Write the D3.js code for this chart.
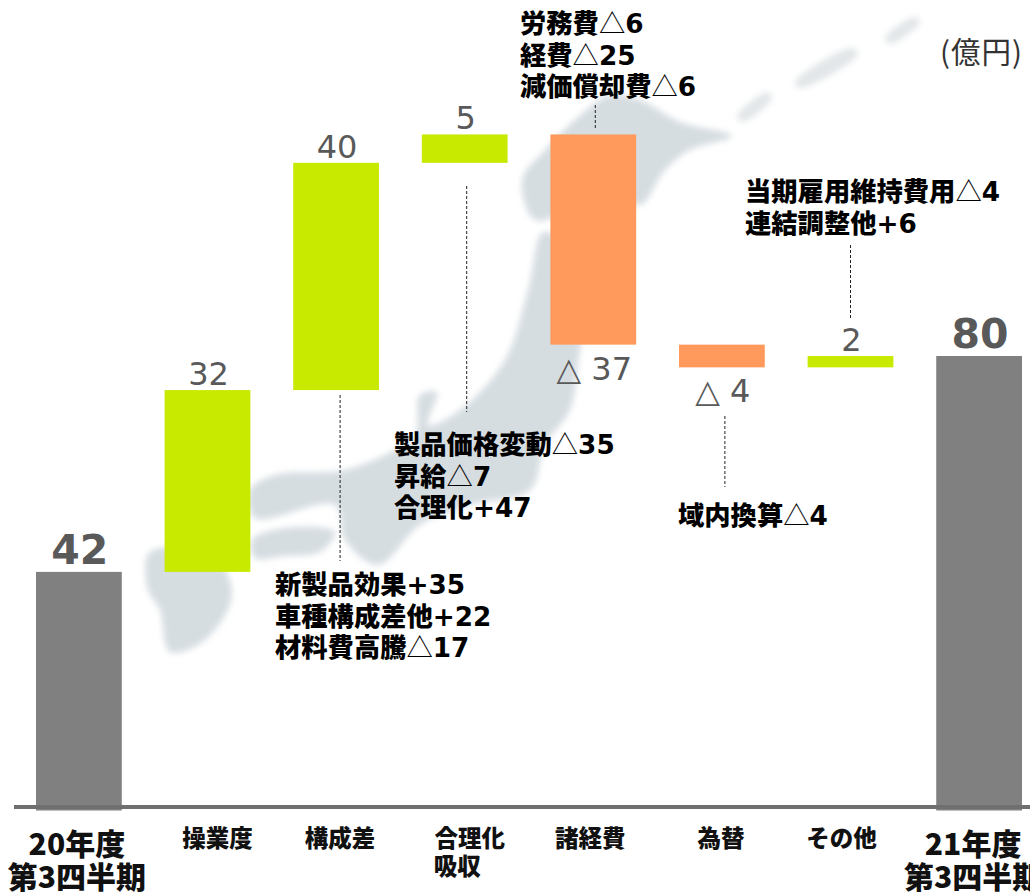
<!DOCTYPE html>
<html>
<head>
<meta charset="utf-8">
<script src="https://cdn.jsdelivr.net/npm/d3@7"></script>
<style>
html, body { margin: 0; padding: 0; background: #fff; }
svg { display: block; }
text { font-family: "DejaVu Sans", "Noto Sans CJK JP", sans-serif; }
.cjk { font-family: "Noto Sans CJK JP", sans-serif; }
</style>
</head>
<body>
<div id="chart"></div>
<script>
// Values
var categories = ['20年度', '操業度', '構成差', '合理化', '諸経費', '為替', 'その他', '21年度'];
var categorySub = ['第3四半期', '', '', '吸収', '', '', '', '第3四半期'];
var deltas = [42, 32, 40, 5, -37, -4, 2, 80];
var totals = [true, false, false, false, false, false, false, true];

// Notes next to the bars
var noteMix = ['新製品効果+35', '車種構成差他+22', '材料費高騰△17'];
var noteRational = ['製品価格変動△35', '昇給△7', '合理化+47'];
var noteExpense = ['労務費△6', '経費△25', '減価償却費△6'];
var noteFx = ['域内換算△4'];
var noteOther = ['当期雇用維持費用△4', '連結調整他+6'];
var unitLabel = '(億円)';

var width = 1030, height = 894;

var svg = d3.select('#chart').append('svg')
    .attr('width', width)
    .attr('height', height);

// faint map of Japan behind the chart
var mapShapes = [
    [[584,112],[610,95],[640,100],[680,122],[732,136],[690,150],[665,170],[640,205],[615,190],[570,210],[535,220],[522,180],[545,150]],
    [[543,232],[560,240],[590,300],[580,350],[570,410],[545,445],[530,490],[470,505],[420,525],[378,565],[345,540],[335,505],[255,518],[250,490],[275,475],[345,470],[395,450],[415,438],[420,395],[437,392],[428,425],[460,410],[505,360],[528,290]],
    [[252,540],[285,528],[335,532],[320,552],[285,556],[255,558]],
    [[150,552],[215,558],[232,595],[205,640],[170,652],[160,610],[148,590]]
];
var mapIslands = [
    [[737,116],[768,92],[772,98],[742,122]],
    [[795,82],[852,48],[858,54],[800,88]],
    [[885,38],[915,17],[920,22],[890,44]]
];

var defs = svg.append('defs');
defs.append('filter').attr('id', 'blur')
    .attr('x', '-20%').attr('y', '-20%').attr('width', '140%').attr('height', '140%')
    .append('feGaussianBlur').attr('stdDeviation', 3);

var mapLine = d3.line().curve(d3.curveCatmullRomClosed.alpha(0.5));
var mapG = svg.append('g').attr('filter', 'url(#blur)');
mapG.selectAll('path.land')
    .data(mapShapes)
    .enter()
    .append('path')
    .attr('class', 'land')
    .attr('d', mapLine)
    .style('fill', '#d6dde1');
mapG.selectAll('path.isle')
    .data(mapIslands)
    .enter()
    .append('path')
    .attr('class', 'isle')
    .attr('d', mapLine)
    .style('fill', '#e2e6e8');

// scales
var x = d3.scaleBand()
    .domain(categories)
    .range([36, 1022])
    .paddingInner(0.333)
    .paddingOuter(0);

var y = d3.scaleLinear()
    .domain([0, 80])
    .range([810.5, 356]);

// running total for the waterfall
var running = 0;
var bars = categories.map(function (c, i) {
    var start = totals[i] ? 0 : running;
    var end = totals[i] ? deltas[i] : running + deltas[i];
    running = end;
    return { cat: c, value: deltas[i], total: totals[i], top: Math.max(start, end), bottom: Math.min(start, end) };
});

function barColor(d) {
    if (d.total) return '#808080';
    return d.value < 0 ? '#ff9a5c' : '#c8e900';
}

svg.append('g')
    .selectAll('rect')
    .data(bars)
    .enter()
    .append('rect')
    .attr('x', function (d) { return x(d.cat); })
    .attr('y', function (d) { return y(d.top); })
    .attr('width', x.bandwidth())
    .attr('height', function (d) { return y(d.bottom) - y(d.top); })
    .style('fill', barColor);

// value labels
svg.append('g')
    .selectAll('text')
    .data(bars)
    .enter()
    .append('text')
    .attr('x', function (d) { return x(d.cat) + x.bandwidth() / 2 + 1; })
    .attr('y', function (d) {
        if (d.value < 0) return y(d.bottom) + 35;
        return y(d.top) - (d.total ? 8 : 5);
    })
    .attr('text-anchor', 'middle')
    .style('font-size', function (d) { return d.total ? '41px' : '32px'; })
    .style('font-weight', function (d) { return d.total ? 'bold' : 'normal'; })
    .style('fill', '#595959')
    .text(function (d) { return d.value < 0 ? '△ ' + Math.abs(d.value) : d.value; });

// baseline and category labels
svg.append('line')
    .attr('x1', 14).attr('x2', width)
    .attr('y1', 807).attr('y2', 807)
    .style('stroke', '#6f6f6f')
    .style('stroke-width', 4);

// the labels do not sit quite centred under the bars in the original
var labelShift = [-2, 10, 4, 5, -3, -1, -9, -6];
var subShift = [0, 0, 0, -12.5, 0, 0, 0, 0];

var axis = svg.append('g')
    .attr('transform', 'translate(0,' + 807 + ')')
    .call(d3.axisBottom(x).tickSize(0).tickPadding(0));
axis.select('.domain').remove();
axis.selectAll('.tick text').each(function (c) {
    var i = categories.indexOf(c);
    var t = d3.select(this);
    var big = totals[i];
    t.text(null)
        .attr('class', 'cjk')
        .attr('y', 0)
        .attr('dy', 0)
        .style('font-size', big ? '30px' : '23.5px')
        .style('font-weight', 900)
        .style('fill', '#111');
    t.append('tspan').attr('x', labelShift[i]).attr('y', big ? 48 : 40).text(c);
    if (categorySub[i]) {
        t.append('tspan').attr('x', labelShift[i] + subShift[i]).attr('y', big ? 81 : 68).text(categorySub[i]);
    }
});

// notes with dashed leaders, leaders hang off the bar they belong to
var notes = [
    { lines: noteMix, cat: '構成差', left: 275, top: 594, y1: 395, y2: 561, dx: 4 },
    { lines: noteRational, cat: '合理化', left: 394, top: 454, y1: 186, y2: 412, dx: 2 },
    { lines: noteExpense, cat: '諸経費', left: 520, top: 33, y1: 105, y2: 130, dx: 2 },
    { lines: noteFx, cat: '為替', left: 678, top: 525, y1: 416, y2: 487, dx: 3 },
    { lines: noteOther, cat: 'その他', left: 745, top: 201, y1: 245, y2: 318, dx: 0 }
];

var noteG = svg.append('g').selectAll('g')
    .data(notes)
    .enter()
    .append('g');

noteG.append('line')
    .attr('x1', function (d) { return x(d.cat) + x.bandwidth() / 2 + d.dx; })
    .attr('x2', function (d) { return x(d.cat) + x.bandwidth() / 2 + d.dx; })
    .attr('y1', function (d) { return d.y1; })
    .attr('y2', function (d) { return d.y2; })
    .style('stroke', '#222')
    .style('stroke-width', 1)
    .style('stroke-dasharray', '3,2');

// the triangle is set in the CJK face, it is wider and thinner there
noteG.append('text')
    .style('font-size', '26.3px')
    .style('font-weight', 900)
    .style('fill', '#000')
    .each(function (d) {
        var t = d3.select(this);
        d.lines.forEach(function (line, i) {
            var parts = line.split('△');
            var head = parts[0].replace(/[+\d]+$/, '');
            t.append('tspan')
                .attr('class', 'cjk')
                .attr('x', d.left)
                .attr('y', d.top + i * 31.5)
                .text(head);
            if (parts.length > 1) {
                t.append('tspan').attr('class', 'cjk').style('font-weight', 400).text('△');
                t.append('tspan').style('font-weight', 'bold').text(parts[1]);
            } else {
                t.append('tspan').style('font-weight', 'bold').text(parts[0].slice(head.length));
            }
        });
    });

// unit label
svg.append('text')
    .attr('class', 'cjk')
    .attr('x', 940)
    .attr('y', 63)
    .style('font-size', '29.5px')
    .style('letter-spacing', '1px')
    .style('fill', '#333')
    .text(unitLabel);
</script>
</body>
</html>
